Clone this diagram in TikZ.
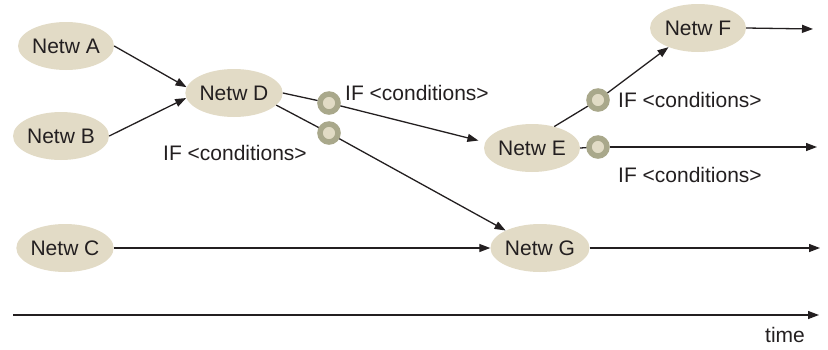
\documentclass[tikz,border=0pt]{standalone}
\usepackage{fontspec}
\setmainfont{Liberation Sans}
\usetikzlibrary{arrows.meta,shapes.geometric}
\definecolor{netfill}{HTML}{E2DBC6}
\definecolor{ringcol}{HTML}{A9A88B}
\definecolor{ringin}{HTML}{E1DBC5}
\definecolor{ink}{HTML}{231F20}
\tikzset{
  netw/.style={ellipse, fill=netfill, minimum width=96pt, minimum height=48pt,
    inner sep=0pt, text=ink, font=\fontsize{21}{24}\selectfont},
  gate/.style={circle, draw=ringcol, fill=ringin, line width=5.5pt,
    minimum size=18pt, inner sep=0pt},
  cond/.style={anchor=west, inner sep=0pt, text=ink, font=\fontsize{21}{24}\selectfont},
  flow/.style={draw=ink, line width=1.3pt, -{Triangle[length=11pt,width=8pt]}},
  plain/.style={draw=ink, line width=1.3pt}
}
\begin{document}
\begin{tikzpicture}[x=1pt, y=-1pt]
  \useasboundingbox (0,0) rectangle (828,349);

  % networks
  \node[netw] (A) at (66,46)  {Netw A};
  \node[netw] (B) at (61,136) {Netw B};
  \node[netw] (C) at (65,248) {Netw C};
  \node[netw] (D) at (234,93) {Netw D};
  \node[netw] (E) at (532,148) {Netw E};
  \node[netw] (F) at (698,28) {Netw F};
  \node[netw] (G) at (540,248) {Netw G};

  % open ends
  \coordinate (endF) at (813,29);
  \coordinate (endE) at (817,147);
  \coordinate (endG) at (820,248);
  \coordinate (t0) at (13,315);
  \coordinate (t1) at (819,315);

  % condition gates
  \node[gate] (g1) at (329,103) {};
  \node[gate] (g2) at (329,133) {};
  \node[gate] (g3) at (598,100) {};
  \node[gate] (g4) at (598,147) {};

  % connectors
  \draw[flow] (A.east) -- (D.173);
  \draw[flow] (B.east) -- (D.186);
  \draw[plain] (D.east) -- (g1);
  \draw[flow, shorten >=7pt] (g1) -- (E.173);
  \draw[plain] (D.-16) -- (g2);
  \draw[flow] (g2) -- (G.153);
  \draw[flow] (C.east) -- (G.west);
  \draw[plain] (E.44) -- (g3);
  \draw[flow] (g3) -- (F.213);
  \draw[plain] (E.east) -- (g4);
  \draw[flow] (g4) -- (endE);
  \draw[flow] (F.east) -- (endF);
  \draw[flow] (G.east) -- (endG);
  \draw[flow] (t0) -- (t1);

  % labels
  \node[cond] (l1) at (345,93)  {IF <conditions>};
  \node[cond] (l2) at (163,153) {IF <conditions>};
  \node[cond] (l3) at (618,100) {IF <conditions>};
  \node[cond] (l4) at (618,175) {IF <conditions>};
  \node[inner sep=0pt, text=ink, font=\fontsize{21}{24}\selectfont] (tl) at (785,335) {time};
\end{tikzpicture}
\end{document}
